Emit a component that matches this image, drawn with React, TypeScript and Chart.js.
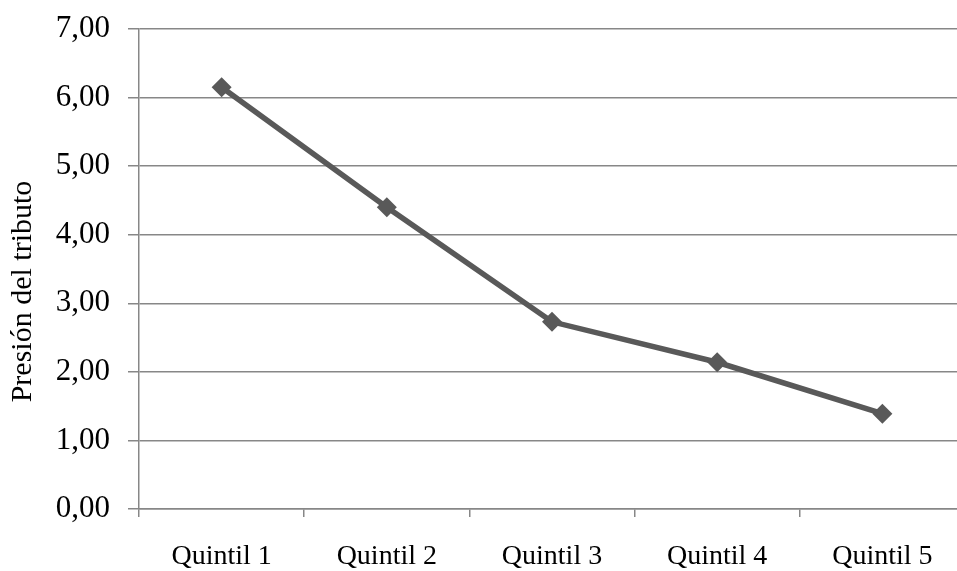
import React, { useEffect, useRef } from "react";
import { Chart, registerables } from "chart.js";

Chart.register(...registerables);

const categories = ["Quintil 1", "Quintil 2", "Quintil 3", "Quintil 4", "Quintil 5"];
const presion = [6.15, 4.4, 2.73, 2.14, 1.39];
const yTicks = [0, 1, 2, 3, 4, 5, 6, 7];
const yTitle = "Presión del tributo";

export default function App() {
  const ref = useRef<HTMLCanvasElement | null>(null);

  useEffect(() => {
    if (!ref.current) return;
    const family = "'Liberation Serif', 'Times New Roman', serif";
    const xFont = { family, size: 28 };
    const yFont = { family, size: 31 };
    const chart = new Chart(ref.current, {
      type: "line",
      data: {
        labels: categories,
        datasets: [
          {
            data: presion,
            borderColor: "#595959",
            backgroundColor: "#595959",
            borderWidth: 5.5,
            pointStyle: "rectRot",
            pointRadius: 10,
            pointHoverRadius: 10,
            pointBorderWidth: 0,
            tension: 0,
          },
        ],
      },
      options: {
        responsive: false,
        animation: false,
        devicePixelRatio: 1,
        layout: { padding: { top: 29, right: 6, bottom: 0, left: 0 } },
        plugins: { legend: { display: false }, tooltip: { enabled: false } },
        scales: {
          x: {
            offset: true,
            grid: {
              offset: true,
              drawOnChartArea: false,
              drawTicks: true,
              tickLength: 8,
              color: "#878787",
              lineWidth: 1.5,
            },
            border: { color: "#878787", width: 1.5 },
            ticks: { font: xFont, color: "#000", padding: 23, maxRotation: 0 },
            afterFit: (s: any) => {
              s.height = 62;
              s.paddingLeft = 0;
              s.paddingRight = 0;
            },
          },
          y: {
            min: 0,
            max: 7,
            afterBuildTicks: (s: any) => {
              s.ticks = yTicks.map((v) => ({ value: v }));
            },
            grid: {
              color: "#878787",
              lineWidth: 1.5,
              drawTicks: true,
              tickLength: 11,
            },
            border: { color: "#878787", width: 1.5 },
            ticks: {
              font: yFont,
              color: "#000",
              padding: 18,
              callback: (v: any) => Number(v).toFixed(2).replace(".", ","),
            },
            title: {
              display: true,
              text: yTitle + "      ",
              font: { family, size: 30 },
              color: "#000",
              padding: { top: 5, bottom: 0 },
            },
            afterFit: (s: any) => {
              s.width = 139;
              s.paddingTop = 0;
              s.paddingBottom = 0;
            },
          },
        },
      },
    });
    return () => chart.destroy();
  }, []);

  return (
    <div
      style={{
        position: "fixed",
        left: 0,
        top: 0,
        width: 957,
        height: 571,
        overflow: "hidden",
        background: "#fff",
      }}
    >
      <canvas ref={ref} width={975} height={571} style={{ display: "block" }} />
    </div>
  );
}
